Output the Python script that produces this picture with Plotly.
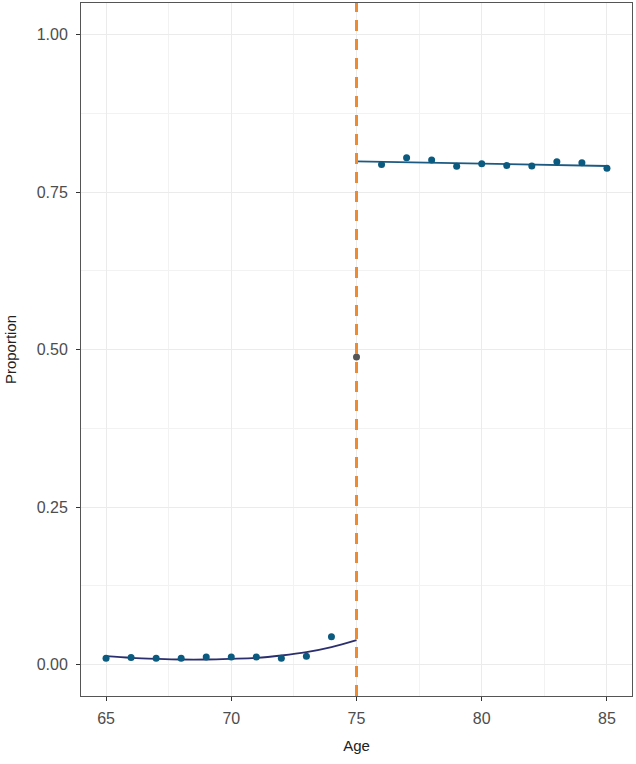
import plotly.graph_objects as go

# observed proportions by age
age_below = [65, 66, 67, 68, 69, 70, 71, 72, 73, 74]
prop_below = [0.010, 0.011, 0.010, 0.010, 0.012, 0.012, 0.012, 0.010, 0.013, 0.044]

age_cut = [75]
prop_cut = [0.488]

age_above = [76, 77, 78, 79, 80, 81, 82, 83, 84, 85]
prop_above = [0.7935, 0.8045, 0.8008, 0.7908, 0.7950, 0.7919, 0.7914, 0.7982, 0.7966, 0.7876]

# fitted curves
fit_age_below = [65, 66, 67, 68, 69, 70, 71, 72, 73, 74, 75]
fit_below = [0.0132, 0.0106, 0.0090, 0.0079, 0.0079, 0.0090, 0.0106, 0.0143, 0.0195, 0.0275, 0.0386]

fit_age_above = [75, 85]
fit_above = [0.7987, 0.7913]

cutoff = 75

point_col = "#0b5a7f"
font_fam = "Liberation Sans, Arial, sans-serif"

fig = go.Figure()

fig.add_trace(go.Scatter(x=age_cut, y=prop_cut, mode="markers",
                         marker=dict(color="#555555", size=7), showlegend=False))
fig.add_trace(go.Scatter(x=fit_age_below, y=fit_below, mode="lines",
                         line=dict(color="#2b2f6e", width=1.8, shape="spline"), showlegend=False))
fig.add_trace(go.Scatter(x=fit_age_above, y=fit_above, mode="lines",
                         line=dict(color="#1c5a82", width=1.8), showlegend=False))
fig.add_trace(go.Scatter(x=age_below, y=prop_below, mode="markers",
                         marker=dict(color=point_col, size=7), showlegend=False))
fig.add_trace(go.Scatter(x=age_above, y=prop_above, mode="markers",
                         marker=dict(color=point_col, size=7), showlegend=False))

fig.add_vline(x=cutoff, line=dict(color="#ee8a2f", width=3, dash="11px,8px"))

axis_common = dict(
    showline=True, mirror=True, linecolor="#555555", linewidth=1,
    ticks="outside", ticklen=4, tickcolor="#333333", tickwidth=1,
    showgrid=True, gridcolor="#ebebeb", gridwidth=1, zeroline=False,
    tickfont=dict(family=font_fam, size=16, color="#4d4d4d"),
)

fig.update_xaxes(
    range=[64, 86], tickvals=[65, 70, 75, 80, 85],
    ticklabelstandoff=4,
    minor=dict(showgrid=True, dtick=2.5, tick0=62.5, gridcolor="#f2f2f2", gridwidth=1),
    title=dict(text="Age", standoff=14,
               font=dict(family=font_fam, size=15, color="#222222")),
    **axis_common,
)
fig.update_yaxes(
    range=[-0.05, 1.05], tickvals=[0, 0.25, 0.5, 0.75, 1.0],
    ticktext=["0.00", "0.25", "0.50", "0.75", "1.00"],
    ticklabelstandoff=5,
    minor=dict(showgrid=True, dtick=0.125, tick0=0.125, gridcolor="#f2f2f2", gridwidth=1),
    title=dict(text="Proportion", standoff=16,
               font=dict(family=font_fam, size=15, color="#222222")),
    **axis_common,
)

fig.update_layout(
    width=636, height=764,
    margin=dict(l=81, r=4, t=3, b=68),
    plot_bgcolor="white", paper_bgcolor="white",
    showlegend=False,
)

fig.write_html("out.html", config={"displayModeBar": False},
               post_script="document.body.style.margin='0';document.body.style.overflow='hidden';")
